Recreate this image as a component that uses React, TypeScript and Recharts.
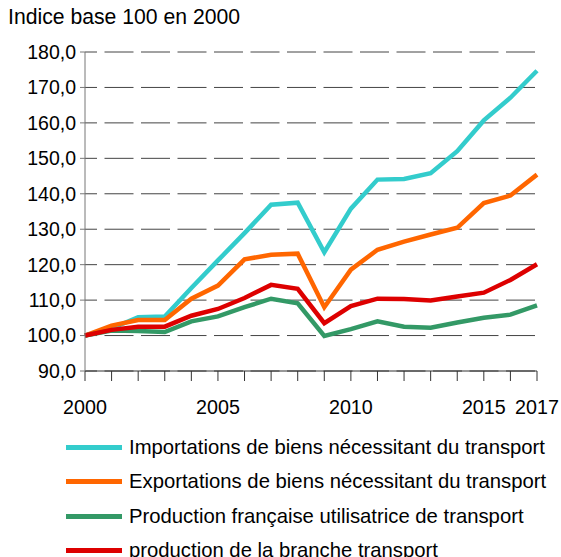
import React from 'react';
import { LineChart, Line, XAxis, YAxis, CartesianGrid, Legend } from 'recharts';

const YEARS = [2000, 2001, 2002, 2003, 2004, 2005, 2006, 2007, 2008, 2009, 2010, 2011, 2012, 2013, 2014, 2015, 2016, 2017];
const IMPORTATIONS = [100, 102.0, 105.2, 105.4, 113.4, 121.2, 128.9, 136.9, 137.5, 123.5, 135.8, 144.0, 144.2, 145.8, 152.0, 160.7, 167.1, 174.7];
const EXPORTATIONS = [100, 102.8, 104.4, 104.4, 110.4, 114.1, 121.5, 122.8, 123.1, 108.0, 118.6, 124.2, 126.5, 128.5, 130.4, 137.4, 139.5, 145.4];
const PRODUCTION_FR = [100, 101.4, 101.3, 101.0, 104.0, 105.4, 108.0, 110.4, 109.1, 99.9, 101.8, 104.0, 102.5, 102.2, 103.7, 105.0, 105.9, 108.5];
const BRANCHE = [100, 101.6, 102.5, 102.5, 105.6, 107.5, 110.6, 114.3, 113.2, 103.5, 108.3, 110.4, 110.3, 109.9, 111.0, 112.1, 115.7, 120.1];

const Y_TICKS = [90, 100, 110, 120, 130, 140, 150, 160, 170, 180];
const LABELED_YEARS = [2000, 2005, 2010, 2015, 2017];

const SERIES = [
  { key: 'imp', name: 'Importations de biens nécessitant du transport', color: '#33CCCC', values: IMPORTATIONS },
  { key: 'exp', name: 'Exportations de biens nécessitant du transport', color: '#FF6600', values: EXPORTATIONS },
  { key: 'prod', name: 'Production française utilisatrice de transport', color: '#339966', values: PRODUCTION_FR },
  { key: 'branche', name: 'production de la branche transport', color: '#DD0000', values: BRANCHE },
];

const data = YEARS.map((year, i) => {
  const row: Record<string, number> = { year };
  SERIES.forEach(s => { row[s.key] = s.values[i]; });
  return row;
});

const FONT = 'Arial, "Liberation Sans", sans-serif';

const renderLegend = () => (
  <div style={{ fontFamily: FONT, fontSize: 20.3, color: '#000', whiteSpace: 'nowrap' }}>
    {SERIES.map(s => (
      <div key={s.key} style={{ display: 'flex', alignItems: 'center', height: 34.5 }}>
        <span style={{ display: 'inline-block', width: 56, height: 5, background: s.color, marginRight: 7 }} />
        <span>{s.name}</span>
      </div>
    ))}
  </div>
);

export default function App() {
  return (
    <div style={{ position: 'absolute', left: 0, top: 0, width: 561, height: 557, background: '#fff', overflow: 'hidden' }}>
      <div style={{ position: 'absolute', left: 8, top: 5, fontFamily: FONT, fontSize: 21.2, color: '#000' }}>
        Indice base 100 en 2000
      </div>
      <LineChart width={561} height={557} data={data} margin={{ top: 52, right: 24, left: 0, bottom: 146 }}>
        <CartesianGrid vertical={false} stroke="#444" strokeDasharray="29 7.5" strokeDashoffset={17} />
        <XAxis
          dataKey="year"
          type="number"
          domain={[2000, 2017]}
          ticks={YEARS}
          interval={0}
          height={40}
          tickSize={10}
          tickMargin={19}
          stroke="#333"
          tick={{ fill: '#000', fontSize: 19.7, fontFamily: FONT }}
          tickFormatter={(v: number) => (LABELED_YEARS.includes(v) ? String(v) : '')}
        />
        <YAxis
          type="number"
          domain={[90, 180]}
          ticks={Y_TICKS}
          interval={0}
          width={85}
          tickSize={5}
          tickMargin={4}
          stroke="#777"
          tick={{ fill: '#000', fontSize: 19.5, fontFamily: FONT }}
          tickFormatter={(v: number) => v.toFixed(1).replace('.', ',')}
        />
        <Legend
          layout="vertical"
          align="center"
          verticalAlign="middle"
          content={renderLegend}
          wrapperStyle={{ left: 66, top: 430, width: 495 }}
        />
        {SERIES.map(s => (
          <Line
            key={s.key}
            dataKey={s.key}
            name={s.name}
            stroke={s.color}
            strokeWidth={4.5}
            dot={false}
            activeDot={false}
            strokeLinejoin="miter"
            isAnimationActive={false}
          />
        ))}
      </LineChart>
    </div>
  );
}
